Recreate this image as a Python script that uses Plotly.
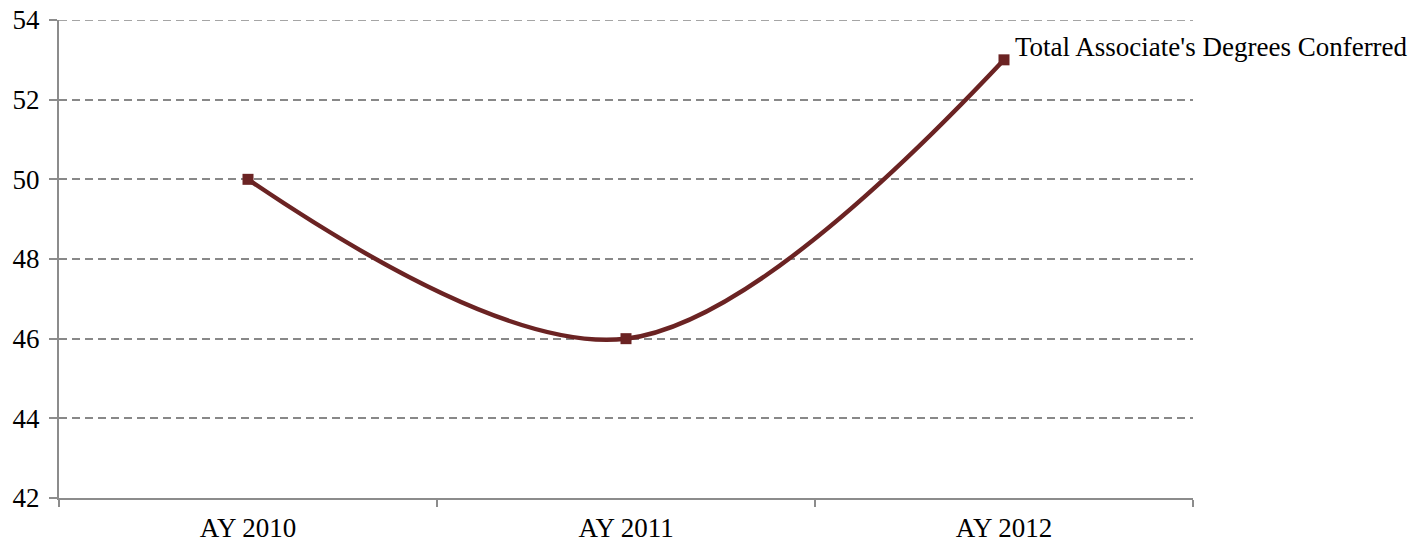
import plotly.graph_objects as go

years = ["AY 2010", "AY 2011", "AY 2012"]
degrees = [50, 46, 53]
series_name = "Total Associate's Degrees Conferred"

line_color = "#6B2323"
axis_color = "#8C8C8C"
grid_color = "#888888"
font_family = "Liberation Serif, Times New Roman, serif"
y_min, y_max = 42, 54

fig = go.Figure()
fig.add_trace(go.Scatter(
    x=years, y=degrees, mode="lines+markers", name=series_name,
    line=dict(color=line_color, width=4.5, shape="spline", smoothing=1),
    marker=dict(symbol="square", size=11, color=line_color),
    cliponaxis=False,
))

# series label next to the last point
fig.add_annotation(
    x=years[-1], y=degrees[-1], text=series_name, showarrow=False,
    xanchor="left", yanchor="bottom", xshift=9, yshift=-4,
    font=dict(family=font_family, size=27, color="#000000"),
)

# dashed gridline along the top edge of the plot area
fig.add_shape(
    type="line", xref="paper", yref="y", x0=0, x1=1, y0=y_max, y1=y_max,
    line=dict(color=grid_color, width=1.5, dash="8px,5px"), layer="below",
)

fig.update_layout(
    width=1426, height=544,
    margin=dict(l=59, r=233, t=20, b=46),
    paper_bgcolor="white", plot_bgcolor="white",
    showlegend=False,
    font=dict(family=font_family, size=27, color="#000000"),
)
fig.update_xaxes(
    type="category", range=[-0.5, 2.5], tickson="boundaries",
    showgrid=False, showline=True, linecolor=axis_color, linewidth=2,
    ticks="outside", ticklen=7, tickwidth=2, tickcolor=axis_color,
    zeroline=False, automargin=False, ticklabelstandoff=5,
)
fig.update_yaxes(
    range=[y_min, y_max], dtick=2, showgrid=True, gridcolor=grid_color,
    griddash="8px,5px", gridwidth=1.5, showline=True, linecolor=axis_color,
    linewidth=2, ticks="outside", ticklen=8, tickwidth=2,
    tickcolor=axis_color, zeroline=False, ticklabelstandoff=4,
    automargin=False,
)

fig.write_html("out.html")
